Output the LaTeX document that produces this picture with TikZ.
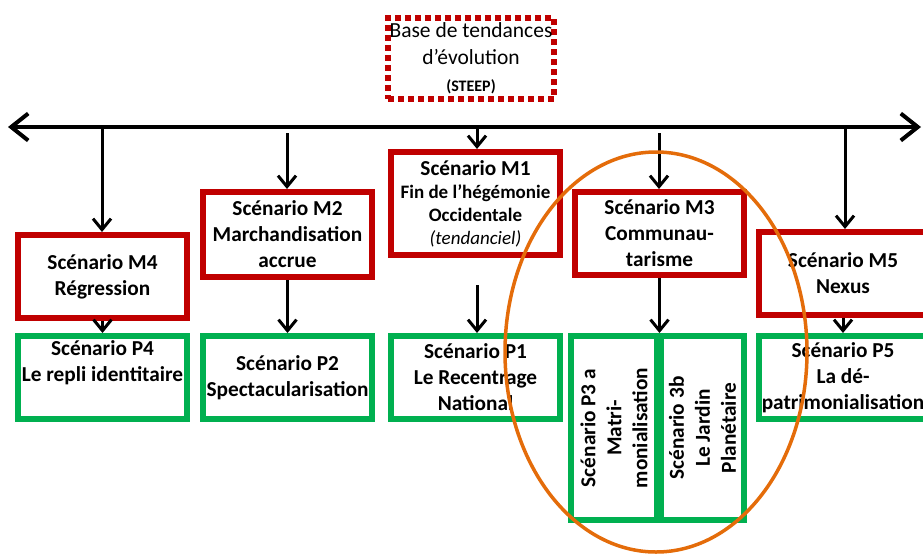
\documentclass[tikz,border=0pt]{standalone}
\usepackage{fontspec}
\setmainfont{Carlito}
\usetikzlibrary{arrows.meta}

\definecolor{boxred}{HTML}{C00000}
\definecolor{boxgreen}{HTML}{00B050}
\definecolor{ringorange}{HTML}{E46C0A}

\tikzset{
  basebox/.style={align=center, inner sep=0pt, line width=6pt,
    minimum width=169pt, minimum height=83pt,
    font=\bfseries\fontsize{21.3}{26}\selectfont},
  mbox/.style={basebox, draw=boxred},
  pbox/.style={basebox, draw=boxgreen},
  sourcebox/.style={draw=boxred, line width=6pt, dash pattern=on 6pt off 4pt,
    minimum width=166pt, minimum height=81pt, align=center, inner sep=0pt,
    font=\fontsize{21.5}{27}\selectfont},
  flow/.style={line width=3pt, -{Straight Barb[length=11pt,width=18pt]}},
  timeline/.style={line width=4pt,
    {Straight Barb[length=17pt,width=27pt]}-{Straight Barb[length=17pt,width=27pt]}},
  ring/.style={draw=ringorange, line width=3.5pt},
}

\begin{document}
\begin{tikzpicture}[x=1pt, y=-1pt]
  \useasboundingbox (0,0) rectangle (923,555);
  \clip (0,0) rectangle (923,555);

  % source of trends
  \node[sourcebox] (base) at (471,58.5)
    {Base de tendances\\d’évolution\\{\bfseries\fontsize{16}{19}\selectfont (STEEP)}};

  % horizontal axis
  \coordinate (axL) at (8,127);
  \coordinate (axR) at (921,127);
  \draw[timeline] (axL) -- (axR);

  % macro scenarios
  \node[mbox] (M4) at (102.5,276.5) {Scénario M4\\Régression};
  \node[mbox, minimum height=85pt] (M2) at (287.5,234.5)
    {Scénario M2\\Marchandisation\\accrue};
  \node[mbox, minimum height=103pt, font=\bfseries\fontsize{19}{23}\selectfont] (M1) at (475.5,203.5)
    {{\fontsize{21.3}{23}\selectfont Scénario M1}\\Fin de l’hégémonie\\Occidentale\\{\mdseries\itshape (tendanciel)}};
  \node[mbox] (M3) at (659.5,233.5) {Scénario M3\\Communau-\\tarisme};
  \node[mbox] (M5) at (843,273.5) {Scénario M5\\Nexus};

  % heritage scenarios
  \node[pbox] (P4) at (102.5,377.5) {Scénario P4\\Le repli identitaire\\\strut};
  \node[pbox] (P2) at (287.5,377.5) {Scénario P2\\Spectacularisation};
  \node[pbox] (P1) at (475.5,377.5) {Scénario P1\\Le Recentrage\\National};
  \node[pbox, rotate=90, minimum width=184pt, minimum height=86pt] (P3a) at (614,428)
    {Scénario P3 a\\Matri-\\monialisation};
  \node[pbox, rotate=90, minimum width=184pt, minimum height=83pt] (P3b) at (702.5,428)
    {Scénario 3b\\Le Jardin\\Planétaire};
  \node[pbox] (P5) at (843,377.5) {Scénario P5\\La dé-\\patrimonialisation};

  % arrows from the axis
  \coordinate (s4) at (102,127);
  \coordinate (s2) at (287,133);
  \coordinate (s1) at (477,127);
  \coordinate (s3) at (659,133);
  \coordinate (s5) at (845,127);
  \draw[flow] (s4) -- (s4 |- M4.north);
  \draw[flow] (s2) -- (s2 |- M2.north);
  \draw[flow] (s1) -- (s1 |- M1.north);
  \draw[flow] (s3) -- (s3 |- M3.north);
  \draw[flow] (s5) -- (s5 |- M5.north);

  % arrows from macro to heritage scenarios
  \coordinate (q1) at (477,285);
  \draw[flow] (M4.south) -- (M4.south |- P4.north);
  \draw[flow] (M2.south) -- (M2.south |- P2.north);
  \draw[flow] (q1) -- (q1 |- P1.north);
  \draw[flow] (M3.south) -- (M3.south |- P1.north);
  \draw[flow] (M5.south) -- (M5.south |- P5.north);

  % grouping ring around the M3 branch
  \draw[ring] (656,352) ellipse [x radius=151, y radius=200];
\end{tikzpicture}
\end{document}
